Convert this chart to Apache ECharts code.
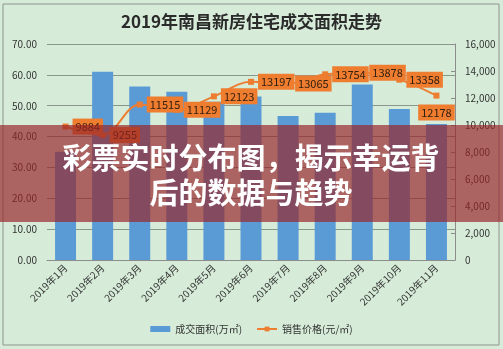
<!DOCTYPE html>
<html>
<head>
<meta charset="utf-8">
<script src="https://cdn.jsdelivr.net/npm/echarts@6/dist/echarts.min.js"></script>
<style>
  html, body { margin: 0; padding: 0; background: #d6ecd8; }
  #chart { width: 503px; height: 349px; }
</style>
</head>
<body>
<div id="chart"></div>
<script>
// 2019年南昌新房住宅：月度成交面积与销售价格
const months = ['2019年1月', '2019年2月', '2019年3月', '2019年4月', '2019年5月', '2019年6月',
                '2019年7月', '2019年8月', '2019年9月', '2019年10月', '2019年11月'];
const areaValues = [35.1, 61.0, 56.2, 54.5, 51.3, 53.0, 46.7, 47.7, 56.9, 48.9, 44.1];
const priceValues = [9884, 9255, 11515, 11129, 12123, 13197, 13065, 13754, 13878, 13358, 12178];
const leftTicks = [0, 10, 20, 30, 40, 50, 60, 70];
const rightTicks = [0, 2000, 4000, 6000, 8000, 10000, 12000, 14000, 16000];
const titleText = '2019年南昌新房住宅成交面积走势';
const bannerLines = ['彩票实时分布图，揭示幸运背', '后的数据与趋势'];

const FONT = '"Noto Sans CJK SC", "Noto Sans", sans-serif';
const chart = echarts.init(document.getElementById('chart'), null, { renderer: 'canvas' });

chart.setOption({
  backgroundColor: '#d6ecd8',
  animation: false,
  title: {
    text: titleText,
    left: 'center',
    top: 8,
    textStyle: { fontFamily: FONT, fontSize: 17, fontWeight: 'bold', color: '#2b2b2b' }
  },
  grid: { left: 47, right: 48, top: 44, bottom: 89 },
  legend: {
    bottom: 10,
    left: 'center',
    itemGap: 14,
    itemWidth: 20,
    itemHeight: 6,
    textStyle: { fontFamily: FONT, fontSize: 10, color: '#333' },
    data: [
      { name: '成交面积(万㎡)', icon: 'rect' },
      { name: '销售价格(元/㎡)' }
    ]
  },
  xAxis: {
    type: 'category',
    data: months,
    axisLine: { lineStyle: { color: '#8c8c8c', width: 1 } },
    axisTick: { show: false },
    axisLabel: {
      rotate: 45, interval: 0, fontFamily: FONT, fontSize: 10, color: '#333', margin: 6
    }
  },
  yAxis: [
    {
      type: 'value', min: leftTicks[0], max: leftTicks[leftTicks.length - 1], interval: 10,
      axisLine: { show: false },
      axisTick: { show: false },
      axisLabel: {
        fontFamily: FONT, fontSize: 10, color: '#333', margin: 10,
        formatter: v => v.toFixed(2)
      },
      splitLine: { lineStyle: { color: '#8a978c', width: 1 } }
    },
    {
      type: 'value', min: rightTicks[0], max: rightTicks[rightTicks.length - 1], interval: 2000,
      position: 'right',
      axisLine: { show: true, lineStyle: { color: '#8c8c8c' } },
      axisTick: { show: true, inside: true, length: 4, lineStyle: { color: '#8c8c8c' } },
      axisLabel: { fontFamily: FONT, fontSize: 10, color: '#333', margin: 10 },
      splitLine: { show: false }
    }
  ],
  series: [
    {
      name: '成交面积(万㎡)',
      type: 'bar',
      yAxisIndex: 0,
      data: areaValues,
      barWidth: 21,
      itemStyle: { color: '#5b9bd5' }
    },
    {
      name: '销售价格(元/㎡)',
      type: 'line',
      yAxisIndex: 1,
      data: priceValues.map((v, i) => i === priceValues.length - 1
        ? { value: v, label: { position: 'bottom', distance: 6 } }
        : v),
      smooth: 0.35,
      symbol: 'rect',
      symbolSize: 6,
      lineStyle: { color: '#ed7d31', width: 2 },
      itemStyle: { color: '#ed7d31' },
      label: {
        show: true,
        position: 'right',
        distance: 4,
        backgroundColor: '#ee7d30',
        padding: [3, 3, 2, 3],
        fontFamily: FONT,
        fontSize: 11,
        color: '#33200f'
      },
      z: 5
    }
  ],
  graphic: [
    {
      type: 'rect',
      shape: { x: 3, y: 4, width: 496, height: 341 },
      style: { fill: 'none', stroke: '#8e948f', lineWidth: 1 },
      silent: true
    },
    {
      type: 'rect',
      shape: { x: 0, y: 125, width: 503, height: 97 },
      style: { fill: 'rgba(150, 35, 40, 0.68)' },
      z: 100,
      silent: true
    },
    {
      type: 'text',
      x: 251, y: 158,
      style: {
        text: bannerLines[0], fill: '#ffffff', align: 'center', verticalAlign: 'middle',
        font: 'bold 29px ' + FONT,
        shadowColor: 'rgba(0,0,0,0.35)', shadowBlur: 3
      },
      z: 101,
      silent: true
    },
    {
      type: 'text',
      x: 251, y: 193,
      style: {
        text: bannerLines[1], fill: '#ffffff', align: 'center', verticalAlign: 'middle',
        font: 'bold 29px ' + FONT,
        shadowColor: 'rgba(0,0,0,0.35)', shadowBlur: 3
      },
      z: 101,
      silent: true
    }
  ]
});
</script>
</body>
</html>
